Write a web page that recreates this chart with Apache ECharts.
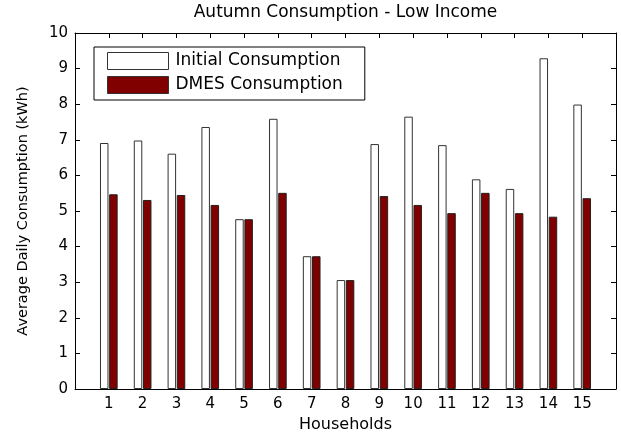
<!DOCTYPE html>
<html>
<head>
<meta charset="utf-8">
<script src="https://cdn.jsdelivr.net/npm/echarts@6/dist/echarts.min.js"></script>
<style>
  html, body { margin: 0; padding: 0; background: #fff; }
  #chart { width: 621px; height: 438px; }
</style>
</head>
<body>
<div id="chart"></div>
<script>
// Households 1..15 and their average daily consumption (kWh)
const households = [1, 2, 3, 4, 5, 6, 7, 8, 9, 10, 11, 12, 13, 14, 15];
const initialConsumption = [6.91, 6.98, 6.61, 7.36, 4.77, 7.59, 3.73, 3.06, 6.88, 7.65, 6.85, 5.89, 5.62, 9.29, 7.99];
const dmesConsumption    = [5.47, 5.31, 5.45, 5.17, 4.77, 5.51, 3.73, 3.06, 5.42, 5.17, 4.94, 5.51, 4.94, 4.84, 5.36];
const yTicks = [0, 1, 2, 3, 4, 5, 6, 7, 8, 9, 10];

const FONT = 'DejaVu Sans';
const INK = '#000';
const DARK_RED = '#800000';

const pairs = (vals) => households.map((h, i) => [h, vals[i]]);

const frameAxis = {
  axisLine: { show: true, onZero: false, lineStyle: { color: INK, width: 1 } },
  axisTick: { show: true, inside: true, length: 5, lineStyle: { color: INK, width: 1 } },
  splitLine: { show: false }
};

const chart = echarts.init(document.getElementById('chart'), null, { renderer: 'canvas' });

chart.setOption({
  animation: false,
  backgroundColor: '#fff',
  title: {
    text: 'Autumn Consumption - Low Income',
    left: 345.5,
    textAlign: 'center',
    top: 4,
    padding: 0,
    textStyle: { fontFamily: FONT, fontSize: 17, fontWeight: 'normal', color: INK }
  },
  grid: { left: 75, right: 5, top: 33, bottom: 42, containLabel: false },
  legend: {
    orient: 'vertical',
    left: 94,
    top: 47,
    align: 'left',
    backgroundColor: '#fff',
    borderColor: INK,
    borderWidth: 1,
    borderRadius: 0,
    padding: [5, 22, 6, 13],
    itemWidth: 61,
    itemHeight: 17,
    itemGap: 6,
    textStyle: { fontFamily: FONT, fontSize: 17, color: INK, padding: [0, 0, 0, 2] },
    data: [
      { name: 'Initial Consumption', icon: 'rect', itemStyle: { color: '#fff', borderColor: '#333', borderWidth: 1 } },
      { name: 'DMES Consumption', icon: 'rect', itemStyle: { color: DARK_RED, borderColor: '#333', borderWidth: 1 } }
    ]
  },
  xAxis: [
    Object.assign({}, frameAxis, {
      type: 'value',
      min: 0,
      max: 16,
      interval: 1,
      name: 'Households',
      nameLocation: 'middle',
      nameGap: 28,
      nameTextStyle: { fontFamily: FONT, fontSize: 16, color: INK },
      axisTick: { show: false },
      axisLabel: {
        fontFamily: FONT, fontSize: 15, color: INK, margin: 8,
        formatter: (v) => (households.indexOf(v) >= 0 ? String(v) : '')
      }
    }),
    Object.assign({
      type: 'value', position: 'top', min: 0, max: 16, interval: 1,
      axisLabel: { show: false }
    }, frameAxis)
  ],
  yAxis: [
    Object.assign({
      type: 'value',
      min: yTicks[0],
      max: yTicks[yTicks.length - 1],
      interval: 1,
      name: 'Average Daily Consumption (kWh)',
      nameLocation: 'middle',
      nameGap: 44,
      nameTextStyle: { fontFamily: FONT, fontSize: 14.5, color: INK },
      axisLabel: { fontFamily: FONT, fontSize: 15, color: INK, margin: 7 }
    }, frameAxis),
    Object.assign({
      type: 'value', position: 'right', min: yTicks[0], max: yTicks[yTicks.length - 1], interval: 1,
      axisLabel: { show: false }
    }, frameAxis)
  ],
  series: [
    {
      name: 'Initial Consumption',
      type: 'bar',
      xAxisIndex: 0,
      yAxisIndex: 0,
      barWidth: 8.5,
      barGap: '8%',
      itemStyle: { color: '#fff', borderColor: '#333', borderWidth: 1 },
      data: pairs(initialConsumption)
    },
    {
      name: 'DMES Consumption',
      type: 'bar',
      xAxisIndex: 0,
      yAxisIndex: 0,
      barWidth: 8.5,
      barGap: '8%',
      itemStyle: { color: DARK_RED, borderColor: '#222', borderWidth: 1 },
      data: pairs(dmesConsumption)
    }
  ]
});
</script>
</body>
</html>
